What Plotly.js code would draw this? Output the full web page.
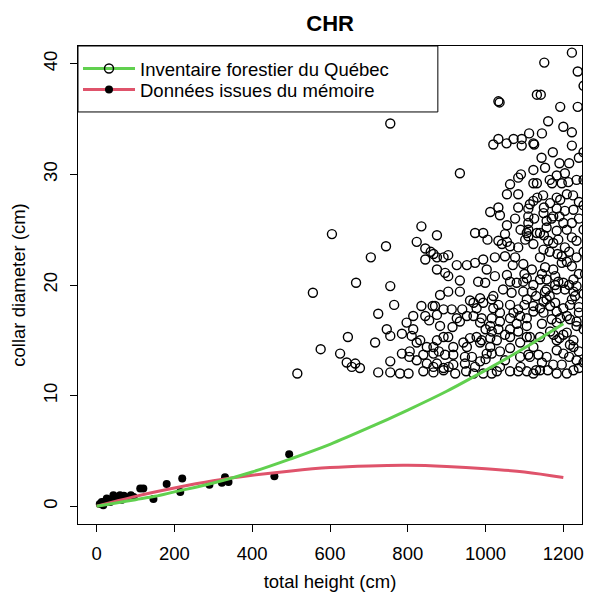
<!DOCTYPE html>
<html>
<head>
<meta charset="utf-8">
<script src="https://cdn.plot.ly/plotly-3.0.1.min.js"></script>
<style>html,body{margin:0;padding:0;background:#fff;}#chart{width:591px;height:592px;}</style>
</head>
<body>
<div id="chart"></div>
<script>
// Inventaire forestier du Québec (open circles)
const invX = [1222,1151,1237,1132,1142,1033,1036,1192,1237,1161,1200,1222,755,1033,1020,1054,1072,1093,1093,1112,1123,1125,1145,1222,1173,1144,934,1153,1123,1091,1084,1183,1204,1063,1123,1132,1171,1196,1213,1234,1055,1084,1148,1183,1209,1225,1123,1166,1133,1192,
1012,1037,1033,1055,1076,1084,1110,1110,1110,1110,1110,1114,1149,1157,1170,1174,1183,1204,1226,1200,1222,1183,1132,1157,1209,875,973,994,1005,1033,1042,1055,1063,1084,1106,1102,1123,1140,1149,1161,1174,1187,1204,1222,1234,
835,605,744,823,845,859,705,845,866,875,892,904,875,896,904,926,952,973,994,1024,1050,1076,1097,1119,1140,1153,1174,1196,1196,1209,1222,1234,1003,1055,1063,934,981,999,1024,1080,1097,1123,1106,1140,1157,1179,1187,1179,1200,1226,1234,1204,1157,
556,667,755,883,904,934,870,892,913,875,883,969,986,969,990,1016,1020,1033,1037,1016,1037,1033,1016,1012,1029,926,934,952,986,1063,1084,1089,1106,1123,1140,1149,1157,1179,1183,1200,1217,1209,1192,1170,1226,1222,1067,1097,1119,1153,1183,
1063,1084,1106,1114,1140,1166,875,866,896,917,943,960,977,947,965,973,917,892,866,1012,1016,1037,1063,1089,1114,1136,1063,1084,1106,1123,1140,1174,1196,1183,1209,1226,1234,1200,1183,1217,1226,1200,1234,994,1029,1217,1234,1183,1110,1157,
1037,1016,969,952,986,1063,1089,1106,1123,1183,1209,1226,990,1012,1072,1063,1106,1123,1149,1166,1230,977,994,1020,
765,724,746,755,646,576,626,643,665,677,656,516,716,724,755,755,797,814,814,810,835,864,845,832,849,892,904,917,785,805,804,823,840,849,875,780,802,840,866,892,922,947,986,1003,785,823,866,
1252,1252,1252,1252,1252,1252,1252,1256,1252,1252,
1240,1240,1240,1240,1240,1240,1240,1240,1215,1190,1165,1150,1190,1215,1165,1145,1130,1165,1215,1145,1175,1190,1215,1160,1145,1100,1080,1050,1045,1000,960,940,915,855,880,905,950,1000,1050,1090,1130,1100,1070,1050,1090,1125,1150,1185];
const invY = [41.0,40.1,39.3,37.2,37.2,36.6,36.5,36.1,36.1,34.8,34.3,33.8,34.6,33.2,32.7,32.8,33.2,33.2,32.6,33.7,32.8,32.7,33.7,32.6,32.0,31.5,30.1,30.6,30.4,30.0,29.7,29.9,30.1,29.1,29.2,29.2,29.2,29.2,29.3,29.5,28.2,28.2,28.1,27.9,28.2,28.1,27.6,27.4,27.9,27.7,
26.6,26.3,27.0,25.4,26.0,27.0,26.9,26.2,25.6,25.0,24.4,27.3,26.5,25.8,26.0,26.2,26.9,26.7,26.8,25.6,25.6,24.9,24.7,25.2,25.0,24.5,24.7,24.7,24.1,24.0,23.7,23.9,23.5,23.4,24.7,24.1,23.7,24.7,23.2,24.0,23.8,24.1,23.4,24.3,24.0,
25.3,24.6,23.5,23.9,23.3,23.0,22.5,22.3,22.8,22.5,22.5,22.7,21.4,21.1,20.8,21.8,21.8,22.0,22.3,22.5,22.6,22.5,21.9,21.4,22.5,21.6,21.4,22.6,22.0,22.1,21.7,22.5,21.4,20.9,20.3,20.4,20.3,20.2,20.8,20.2,20.3,20.0,20.6,20.5,20.5,20.8,20.3,20.0,20.2,20.5,19.9,19.6,19.6,
19.3,20.2,19.9,19.1,19.4,19.4,18.1,17.8,17.8,17.3,16.3,18.4,18.8,17.2,17.0,18.7,17.9,18.2,17.5,17.0,16.7,16.0,15.8,15.2,15.0,17.0,16.7,17.2,16.6,18.2,17.8,17.2,17.0,17.6,17.9,17.5,18.7,18.4,17.6,17.9,18.2,17.2,17.0,16.9,19.4,18.7,19.3,19.4,19.4,19.4,19.6,
16.0,15.8,16.3,15.3,15.3,15.8,15.0,13.8,13.7,13.7,14.8,15.2,15.3,13.5,13.5,12.6,12.8,12.5,12.6,14.4,13.8,14.0,14.3,13.5,13.5,13.7,12.2,12.2,12.2,12.0,12.3,12.8,12.8,12.0,12.0,12.3,13.2,13.8,14.1,14.6,15.0,15.5,16.3,12.0,12.2,16.9,16.7,16.6,13.7,13.5,
12.6,12.0,12.0,14.4,14.8,15.3,14.8,15.3,14.4,15.0,15.7,14.4,15.0,16.3,17.5,17.0,18.7,18.1,18.5,18.1,19.0,17.9,18.4,19.0,
18.2,17.4,16.0,15.4,15.3,14.2,13.8,13.0,12.9,12.5,12.6,12.0,14.8,12.1,12.1,13.1,16.6,17.2,16.0,15.4,18.1,18.1,17.2,15.0,14.4,15.3,15.3,14.4,13.8,14.0,13.5,13.2,13.7,12.9,12.9,12.0,12.0,12.2,12.1,12.3,12.0,12.9,13.1,13.8,15.6,14.8,14.4,
38.0,32.0,27.2,23.0,19.2,16.0,13.0,21.0,29.5,25.0,
31.5,27.5,26.0,21.0,18.0,17.5,14.0,12.5,31.0,31.0,29.5,27.0,26.2,23.0,23.0,21.0,19.0,19.0,20.0,16.5,15.5,15.2,13.5,12.3,13.0,18.2,16.5,15.5,19.6,16.0,18.6,17.8,16.2,16.8,14.0,12.6,12.2,13.3,13.2,12.6,12.3,21.0,21.8,24.6,25.0,26.0,24.5,22.8];

// Données issues du mémoire (filled points)
const memX = [495,457,330,339,322,290,220,215,180,146,120,112,78,60,43,26,13,17,35,8,22,30,50,70,95,65,40,88,55];
const memY = [4.71,2.72,2.63,2.20,2.13,1.95,2.51,1.29,2.02,0.65,1.60,1.60,0.77,1.00,1.00,0.70,0.39,0.09,0.39,0.20,0.45,0.60,0.85,0.95,0.85,0.60,0.55,1.00,0.70];

// Fitted curves
const fitInvX = [0,50,100,150,200,300,400,500,600,700,800,900,1000,1100,1200];
const fitInvY = [0,0.3,0.6,0.9,1.3,2.1,3.1,4.3,5.6,7.1,8.7,10.4,12.3,14.3,16.5];
const fitMemX = [0,50,100,200,300,400,500,600,700,800,900,1000,1100,1200];
const fitMemY = [0,0.46,0.9,1.65,2.3,2.8,3.2,3.5,3.65,3.7,3.6,3.4,3.1,2.6];

const xTicks = [0,200,400,600,800,1000,1200];
const yTicks = [0,10,20,30,40];
const legendNames = ['Inventaire forestier du Québec','Données issues du mémoire'];

const GREEN = '#61D04F', RED = '#DF536B';
const FONT = 'Liberation Sans, Arial, sans-serif';

const traces = [
  {x: invX, y: invY, type:'scatter', mode:'markers', showlegend:false,
   marker:{symbol:'circle-open', size:9, color:'#000', line:{width:1.4, color:'#000'}}},
  {x: memX, y: memY, type:'scatter', mode:'markers', showlegend:false,
   marker:{symbol:'circle', size:8, color:'#000'}},
  {x: fitMemX, y: fitMemY, type:'scatter', mode:'lines', showlegend:false,
   line:{color:RED, width:3, shape:'spline'}},
  {x: fitInvX, y: fitInvY, type:'scatter', mode:'lines', showlegend:false,
   line:{color:GREEN, width:3, shape:'spline'}},
  {x:[null], y:[null], type:'scatter', mode:'lines+markers', name: legendNames[0], legend:'legend',
   line:{color:GREEN, width:3}, marker:{symbol:'circle-open', size:9, color:'#000', line:{width:1.4,color:'#000'}}},
  {x:[null], y:[null], type:'scatter', mode:'lines+markers', name: legendNames[1], legend:'legend2',
   line:{color:RED, width:3}, marker:{symbol:'circle', size:8, color:'#000'}}
];

const axisCommon = {
  showgrid:false, zeroline:false, showline:true, mirror:true, linecolor:'#000', linewidth:1,
  ticks:'outside', ticklen:7, tickwidth:1, tickcolor:'#000',
  tickfont:{family:FONT, size:18.5, color:'#000'}
};

const legendCommon = {x:0, xanchor:'left', yanchor:'middle', bgcolor:'rgba(0,0,0,0)', borderwidth:0,
  font:{family:FONT, size:18.5, color:'#000'}, itemwidth:52};

const layout = {
  width:591, height:592,
  margin:{l:78, r:9, t:46, b:68},
  paper_bgcolor:'#fff', plot_bgcolor:'#fff',
  font:{family:FONT, color:'#000'},
  title:{text:'<b>CHR</b>', font:{family:FONT, size:22, color:'#000'}, x:0.5587, xref:'container', y:0.961, yanchor:'middle'},
  xaxis: Object.assign({}, axisCommon, {
    range:[-48,1248], tickmode:'array', tickvals:xTicks, ticktext:xTicks.map(String),
    ticklabelstandoff:6,
    title:{text:'total height (cm)', font:{family:FONT, size:18.5, color:'#000'}, standoff:14}
  }),
  yaxis: Object.assign({}, axisCommon, {
    range:[-1.6,41.6], tickmode:'array', tickvals:yTicks, ticktext:yTicks.map(String),
    tickangle:-90, ticklabelstandoff:6,
    title:{text:'collar diameter (cm)', font:{family:FONT, size:18.5, color:'#000'}, standoff:9}
  }),
  legend: Object.assign({}, legendCommon, {y:0.952}),
  legend2: Object.assign({}, legendCommon, {y:0.908}),
  shapes:[{type:'rect', xref:'paper', yref:'paper', x0:0, x1:0.714, y0:0.862, y1:1,
    line:{color:'#000', width:1}, fillcolor:'#fff', layer:'above'}]
};

Plotly.newPlot('chart', traces, layout, {displayModeBar:false, staticPlot:true});
</script>
</body>
</html>
